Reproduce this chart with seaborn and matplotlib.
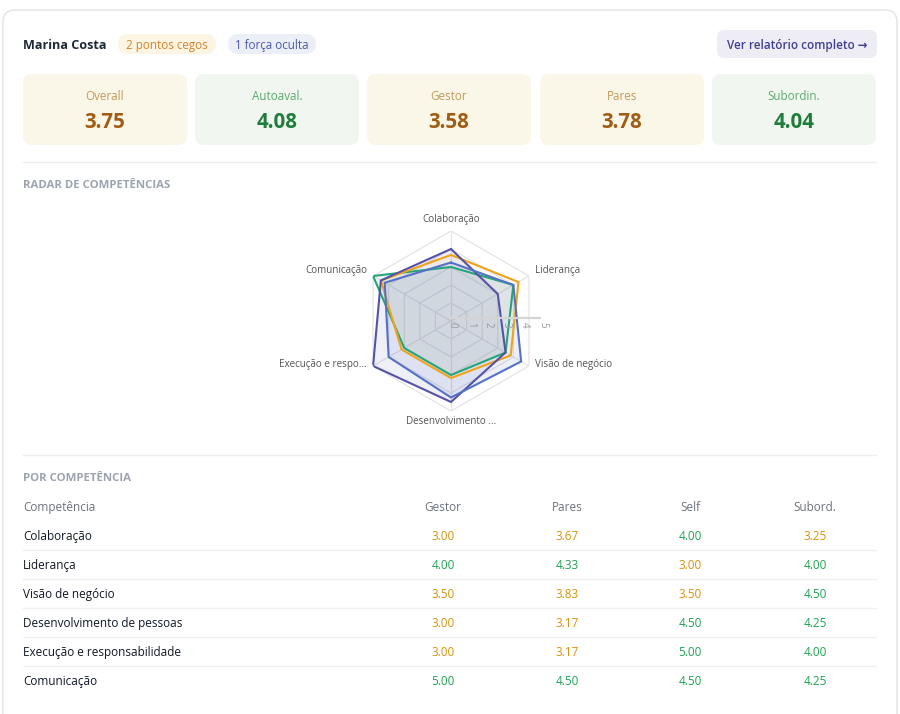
import numpy as np
import matplotlib
matplotlib.use("Agg")
import matplotlib.pyplot as plt
import matplotlib.transforms as mtransforms
from matplotlib.patches import FancyBboxPatch
import seaborn as sns

# --- DATA ---
person = "Marina Costa"
badges = ["2 pontos cegos", "1 força oculta"]
card_labels = ["Overall", "Autoaval.", "Gestor", "Pares", "Subordin."]
card_values = [3.75, 4.08, 3.58, 3.78, 4.04]

competencias = ["Colaboração", "Liderança", "Visão de negócio",
                "Desenvolvimento de pessoas", "Execução e responsabilidade",
                "Comunicação"]
columns = ["Gestor", "Pares", "Self", "Subord."]
gestor = [3.00, 4.00, 3.50, 3.00, 3.00, 5.00]
pares = [3.67, 4.33, 3.83, 3.17, 3.17, 4.50]
self_ = [4.00, 3.00, 3.50, 4.50, 5.00, 4.50]
subord = [3.25, 4.00, 4.50, 4.25, 4.00, 4.25]

# --- STYLE ---
sns.set_theme(style="white")
plt.rcParams['font.family'] = ['Open Sans', 'DejaVu Sans']

series_colors = ["#27a57a", "#f0a21c", "#5552a8", "#5571c6"]
GOOD = "#1fa152"
MID = "#d8920f"
TXT = "#1f2937"
MUTED = "#9ca3af"
LINE = "#eeeeee"

fig = plt.figure(figsize=(9, 7.14), dpi=100)
ax = fig.add_axes([0, 0, 1, 1])
ax.set_xlim(0, 900)
ax.set_ylim(714, 0)
ax.axis("off")


def box(x, y, w, h, fc, ec="none", r=8, lw=1):
    ax.add_patch(FancyBboxPatch((x, y), w, h,
                                boxstyle=f"round,pad=0,rounding_size={r}",
                                fc=fc, ec=ec, lw=lw))


def label(x, y, s, **kw):
    # Open Sans sits a little high with va=center, nudge it down
    return ax.text(x, y + 1.2, s, va="center", **kw)


# outer card
box(3, 10, 894, 740, "white", ec="#e3e3e3", r=12)

# --- HEADER ---
label(23, 44, person, fontsize=9.1, fontweight="bold", color=TXT)
box(118, 34, 98, 20, "#fcf5e3", r=10)
label(167, 44, badges[0], fontsize=8.4, color="#d9822b", ha="center")
box(228, 34, 88, 20, "#eceff8", r=10)
label(272, 44, badges[1], fontsize=8.4, color="#4b5ba8", ha="center")
box(717, 30, 160, 28, "#eeedf6", r=7)
label(797, 44, "Ver relatório completo →", fontsize=8.4, fontweight="semibold",
      color="#3f3f8f", ha="center")

# --- SCORE CARDS ---
card_x = [23, 195, 367, 540, 712]
for cx, lab, val in zip(card_x, card_labels, card_values):
    good = val >= 4
    box(cx, 74, 164, 71, "#f2f6f1" if good else "#fbf7e8", r=9)
    label(cx + 82, 95, lab, fontsize=8.4,
          color="#5aaa6e" if good else "#c39a58", ha="center")
    label(cx + 82, 121, f"{val:.2f}", fontsize=14.8, fontweight="bold",
          color="#1e7d3b" if good else "#a15c14", ha="center")

# --- SECTION: RADAR ---
ax.plot([23, 876], [162, 162], color=LINE, lw=1)
label(23, 184, "RADAR DE COMPETÊNCIAS", fontsize=8.2, fontweight="bold", color=MUTED)

cx, cy, rad = 451, 321, 90
pax = fig.add_axes([(cx - rad) / 900, (714 - cy - rad) / 714, 2 * rad / 900, 2 * rad / 714],
                   projection="polar")
pax.set_theta_offset(np.pi / 2)
pax.set_theta_direction(-1)
pax.set_ylim(0, 5)
pax.grid(False)
pax.set_xticks([])
pax.set_yticks([])
pax.spines["polar"].set_visible(False)
pax.set_facecolor("none")

n = len(competencias)
angles = np.linspace(0, 2 * np.pi, n, endpoint=False)
closed = np.append(angles, angles[0])
for r in range(1, 6):
    pax.plot(closed, [r] * (n + 1), color="#e4e4e4", lw=0.9, zorder=1)
for a in angles:
    pax.plot([a, a], [0, 5], color="#e4e4e4", lw=0.9, zorder=1)

fill_alpha = [0.07, 0.05, 0.09, 0.11]
for vals, col, al in zip([gestor, pares, self_, subord], series_colors, fill_alpha):
    v = np.append(vals, vals[0])
    pax.fill(closed, v, color=col, alpha=al, lw=0, zorder=2)
    pax.plot(closed, v, color=col, lw=1.5, zorder=3)

# radial axis, drawn a touch above the centre like the original
lift = mtransforms.ScaledTranslation(0, 2 / 72, fig.dpi_scale_trans)
pax.plot([np.pi / 2, np.pi / 2], [0, 5.1], color="#d4d4d4", lw=1.6, zorder=4,
         transform=pax.transData + lift)
for r in range(6):
    pax.annotate(str(r), xy=(np.pi / 2, r), xytext=(1, -0.5), textcoords="offset points",
                 rotation=-90, ha="center", va="top", fontsize=7, color="#9a9a9a",
                 zorder=5)


def short(s, k=16):
    return s if len(s) <= k else s[:k] + "..."


label_specs = [("center", "bottom", 0, 6), ("left", "center", 6, 6), ("left", "center", 6, 1),
               ("center", "top", 0, -5), ("right", "center", -6, 1), ("right", "center", -6, 6)]
for a, name, (ha, va, dx, dy) in zip(angles, competencias, label_specs):
    pax.annotate(short(name), xy=(a, 5), xytext=(dx * 0.72, dy * 0.72),
                 textcoords="offset points", ha=ha, va=va, fontsize=7.1, color="#555555")

# --- SECTION: TABLE ---
ax.plot([23, 876], [455, 455], color=LINE, lw=1)
label(23, 477, "POR COMPETÊNCIA", fontsize=8.2, fontweight="bold", color=MUTED)

col_x = [443, 567, 690, 815]
label(23, 506, "Competência", fontsize=8.5, color="#6b7280")
for x, c in zip(col_x, columns):
    label(x, 506, c, fontsize=8.5, color="#6b7280", ha="center")

row_y = 535
for i, name in enumerate(competencias):
    y = row_y + 29 * i
    label(23, y, name, fontsize=8.5, color="#111827")
    for x, vals in zip(col_x, [gestor, pares, self_, subord]):
        v = vals[i]
        label(x, y, f"{v:.2f}", fontsize=8.5, color=GOOD if v >= 4 else MID, ha="center")
    if i < n - 1:
        ax.plot([23, 876], [y + 14.5, y + 14.5], color="#f0f0f0", lw=1)

fig.savefig("out.png", dpi=100)
